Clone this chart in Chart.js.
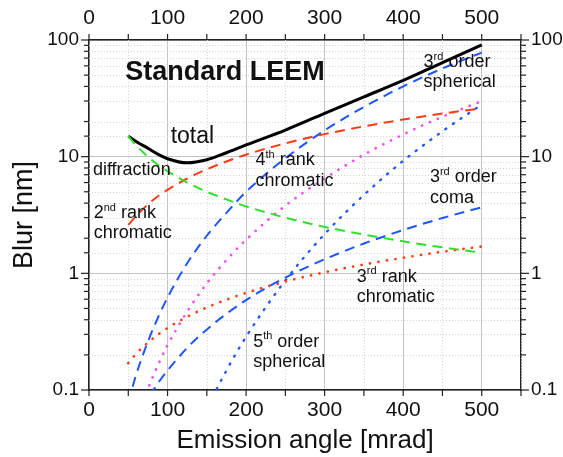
<!DOCTYPE html>
<html>
<head>
<meta charset="utf-8">
<script src="https://cdn.jsdelivr.net/npm/chart.js@4.4.1/dist/chart.umd.min.js"></script>
<style>
  html, body { margin: 0; padding: 0; background: #fff; }
  #wrap { width: 563px; height: 457px; }
</style>
</head>
<body>
<div id="wrap"><canvas id="myChart"></canvas></div>
<script>
// emission angle [mrad] shared by every curve
var angles = [50, 60, 75, 90, 100, 125, 150, 175, 200, 250, 300, 350, 400, 450, 500];

// blur [nm]
var total         = [15, 13.5, 11.8, 10.3, 9.6, 8.85, 9.4, 10.8, 12.6, 16.9, 23.5, 32.5, 45, 64, 91];
var diffraction   = [15, 12.5, 10, 8.3, 7.5, 6, 5, 4.3, 3.75, 3, 2.5, 2.15, 1.88, 1.67, 1.5];
var chrom2        = [2.6, 3.1, 3.9, 4.7, 5.2, 6.5, 7.8, 9.1, 10.4, 13, 15.6, 18.2, 20.8, 23.4, 26];
var spherical3    = [0.078, 0.135, 0.26, 0.45, 0.62, 1.22, 2.1, 3.3, 5.0, 9.7, 16.8, 26.7, 40, 57, 78];
var coma3         = [0.037, 0.053, 0.083, 0.12, 0.147, 0.23, 0.33, 0.45, 0.59, 0.92, 1.32, 1.8, 2.35, 2.98, 3.68];
var chrom3        = [0.17, 0.204, 0.255, 0.306, 0.34, 0.425, 0.51, 0.595, 0.68, 0.85, 1.02, 1.19, 1.36, 1.53, 1.7];
var chrom4        = [0.03, 0.052, 0.102, 0.176, 0.242, 0.47, 0.82, 1.3, 1.94, 3.8, 6.5, 10.4, 15.5, 22, 30];
var spherical5    = [0.00028, 0.0007, 0.0021, 0.0053, 0.009, 0.027, 0.068, 0.147, 0.286, 0.87, 2.17, 4.7, 9.2, 16.5, 28];

var xTicks = [0, 100, 200, 300, 400, 500];
var yTicks = [0.1, 1, 10, 100];

// text written on the plot: x in mrad, y = baseline in nm, ^...^ = superscript
var notes = [
  { text: 'Standard LEEM', x: 46, y: 45.4, size: 27, bold: true },
  { text: 'total', x: 104, y: 13.0, size: 23 },
  { text: 'diffraction', x: 5, y: 6.97 },
  { text: '2^nd^ rank', x: 6, y: 2.97 },
  { text: 'chromatic', x: 6, y: 2.0 },
  { text: '4^th^ rank', x: 212, y: 8.49 },
  { text: 'chromatic', x: 212, y: 5.61 },
  { text: '3^rd^ order', x: 426, y: 59 },
  { text: 'spherical', x: 426, y: 39.3 },
  { text: '3^rd^ order', x: 434, y: 6.1 },
  { text: 'coma', x: 434, y: 3.99 },
  { text: '3^rd^ rank', x: 341, y: 0.849 },
  { text: 'chromatic', x: 341, y: 0.572 },
  { text: '5^th^ order', x: 209, y: 0.2355 },
  { text: 'spherical', x: 209, y: 0.1585 }
];

var FONT = "'Liberation Sans', Arial, sans-serif";

function pts(ys) {
  return angles.map(function (a, i) { return { x: a, y: ys[i] }; });
}
function isDecade(v) {
  var l = Math.log10(v);
  return Math.abs(l - Math.round(l)) < 1e-6;
}

function curve(label, ys, color, dash, width, cap) {
  return {
    label: label,
    data: pts(ys),
    borderColor: color,
    borderWidth: width,
    borderDash: dash,
    borderCapStyle: cap || 'butt',
    pointRadius: 0,
    fill: false,
    cubicInterpolationMode: 'monotone'
  };
}

var DASH = [10, 6.5];
var DOT = [0.1, 8.5];

var datasets = [
  curve('diffraction', diffraction, '#2ee02e', DASH, 2),
  curve('2nd rank chromatic', chrom2, '#ff3a14', DASH, 2),
  curve('3rd order spherical', spherical3, '#1f55ff', DASH, 2),
  curve('3rd order coma', coma3, '#1f55ff', DASH, 2),
  curve('3rd rank chromatic', chrom3, '#ff3a14', DOT, 2.7, 'round'),
  curve('4th rank chromatic', chrom4, '#f050f0', DOT, 2.7, 'round'),
  curve('5th order spherical', spherical5, '#1f55ff', [1.2, 8], 2.3, 'round'),
  curve('total', total, '#000000', [], 3)
];

// tick marks, minor grid and text notes
var decorate = {
  id: 'decorate',
  beforeDatasetsDraw: function (chart) {
    var ctx = chart.ctx, a = chart.chartArea;
    var sx = chart.scales.x, sy = chart.scales.y;
    ctx.save();
    ctx.strokeStyle = '#d6d6d6';
    ctx.lineWidth = 1;
    ctx.setLineDash([1, 2]);
    sy.ticks.forEach(function (t) {
      if (isDecade(t.value)) return;
      var p = Math.round(sy.getPixelForValue(t.value)) + 0.5;
      ctx.beginPath(); ctx.moveTo(a.left, p); ctx.lineTo(a.right, p); ctx.stroke();
    });
    sx.ticks.forEach(function (t) {
      if (t.value % 100 === 0) return;
      var p = Math.round(sx.getPixelForValue(t.value)) + 0.5;
      ctx.beginPath(); ctx.moveTo(p, a.top); ctx.lineTo(p, a.bottom); ctx.stroke();
    });
    ctx.restore();
  },
  afterDraw: function (chart) {
    var ctx = chart.ctx, a = chart.chartArea;
    ctx.save();
    ctx.strokeStyle = '#222';
    ctx.lineWidth = 1.2;
    ['x', 'x2'].forEach(function (id) {
      var s = chart.scales[id];
      s.ticks.forEach(function (t) {
        var p = s.getPixelForValue(t.value);
        ctx.beginPath();
        if (id === 'x') { ctx.moveTo(p, a.bottom); ctx.lineTo(p, a.bottom + 6); }
        else { ctx.moveTo(p, a.top); ctx.lineTo(p, a.top - 6); }
        ctx.stroke();
      });
    });
    ['y', 'y2'].forEach(function (id) {
      var s = chart.scales[id];
      s.ticks.forEach(function (t) {
        var p = s.getPixelForValue(t.value);
        var len = isDecade(t.value) ? 8 : 5;
        ctx.beginPath();
        if (id === 'y') { ctx.moveTo(a.left, p); ctx.lineTo(a.left - len, p); }
        else { ctx.moveTo(a.right, p); ctx.lineTo(a.right + len, p); }
        ctx.stroke();
      });
    });

    var sx = chart.scales.x, sy = chart.scales.y;
    ctx.fillStyle = '#111';
    ctx.textBaseline = 'alphabetic';
    ctx.textAlign = 'left';
    notes.forEach(function (n) {
      var size = n.size || 18;
      var px = sx.getPixelForValue(n.x);
      var py = sy.getPixelForValue(n.y);
      var parts = n.text.split('^');
      parts.forEach(function (part, i) {
        if (!part) return;
        var sup = i % 2 === 1;
        var fs = sup ? Math.round(size * 0.62) : size;
        ctx.font = (n.bold ? 'bold ' : '') + fs + 'px ' + FONT;
        ctx.fillText(part, px, sup ? py - size * 0.4 : py);
        px += ctx.measureText(part).width;
      });
    });
    ctx.restore();
  }
};

function xLabel(v) { return xTicks.indexOf(v) >= 0 ? String(v) : ''; }
function yLabel(v) {
  for (var i = 0; i < yTicks.length; i++) {
    if (Math.abs(v - yTicks[i]) < yTicks[i] * 1e-6) return String(yTicks[i]);
  }
  return '';
}

var yTickFont = { family: FONT, size: 19 };
var xTickFont = { family: FONT, size: 21 };
var border = { display: true, color: '#222', width: 1.5 };

new Chart(document.getElementById('myChart'), {
  type: 'line',
  data: { datasets: datasets },
  plugins: [decorate],
  options: {
    responsive: true,
    maintainAspectRatio: false,
    animation: false,
    layout: { padding: 0 },
    plugins: { legend: { display: false }, tooltip: { enabled: false } },
    scales: {
      x: {
        type: 'linear', position: 'bottom', min: 0, max: 550,
        afterFit: function (s) { s.height = 67; },
        ticks: { stepSize: 50, autoSkip: false, maxRotation: 0, padding: 2, color: '#111', font: xTickFont, callback: xLabel },
        grid: {
          color: function (c) { return c.tick && c.tick.value % 100 === 0 ? '#c4c4c4' : 'rgba(0,0,0,0)'; },
          tickColor: 'rgba(0,0,0,0)', tickLength: 6
        },
        border: border,
        title: { display: true, text: 'Emission angle [mrad]', color: '#111', font: { family: FONT, size: 26 }, padding: { top: 0, bottom: 1 } }
      },
      x2: {
        type: 'linear', position: 'top', min: 0, max: 550,
        afterFit: function (s) { s.height = 40; },
        ticks: { stepSize: 50, autoSkip: false, maxRotation: 0, padding: 3, color: '#111', font: xTickFont, callback: xLabel },
        grid: { drawOnChartArea: false, tickColor: 'rgba(0,0,0,0)', tickLength: 6 },
        border: border
      },
      y: {
        type: 'logarithmic', position: 'left', min: 0.1, max: 100,
        afterFit: function (s) { s.width = 89; },
        ticks: { autoSkip: false, padding: 2, color: '#111', font: yTickFont, callback: yLabel },
        grid: {
          color: function (c) { return c.tick && isDecade(c.tick.value) ? '#c4c4c4' : 'rgba(0,0,0,0)'; },
          tickColor: 'rgba(0,0,0,0)', tickLength: 8
        },
        border: border,
        title: { display: true, text: 'Blur [nm]', color: '#111', font: { family: FONT, size: 27 }, padding: { top: 8, bottom: 0 } }
      },
      y2: {
        type: 'logarithmic', position: 'right', min: 0.1, max: 100,
        afterFit: function (s) { s.width = 42; },
        ticks: { autoSkip: false, padding: 2, color: '#111', font: yTickFont, callback: yLabel },
        grid: { drawOnChartArea: false, tickColor: 'rgba(0,0,0,0)', tickLength: 8 },
        border: border
      }
    }
  }
});
</script>
</body>
</html>
